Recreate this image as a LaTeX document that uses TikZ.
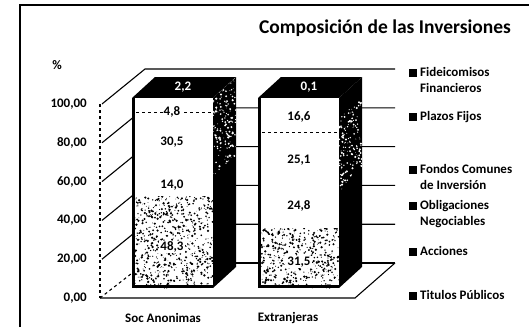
\documentclass[tikz,border=0pt]{standalone}
\usepackage{fontspec}
\setmainfont{Carlito}
\begin{document}
\begin{tikzpicture}[x=1pt,y=-1pt,font=\bfseries\fontsize{13}{16}\selectfont]
    \newcommand{\flx}{100}   % front left corner of the floor
    \newcommand{\fly}{298}
    \newcommand{\bkx}{145}   % back left corner of the floor
    \newcommand{\bky}{263}
    \newcommand{\rgt}{395}   % right end of the back wall
    \newcommand{\stp}{38.8}  % one step of the grid
    \newcommand{\barw}{81}   % width of a bar
    \newcommand{\barb}{288}  % bottom of the bars
    \newcommand{\bartop}{98} % top of the bars
    \newcommand{\dpx}{23}    % depth of a bar
    \newcommand{\dpy}{-21}

    \useasboundingbox (0,0) rectangle (529,327);

    % styles of the chart
    \tikzset{
        wall/.style={line width=1.1pt},
        seglbl/.style={inner sep=1pt},
        axislbl/.style={anchor=east, inner sep=1pt},
        legtxt/.style={anchor=north west, align=left, inner sep=0pt},
        legicon/.style={draw, fill=black, line width=0.6pt, minimum size=6.5pt, inner sep=0pt},
        edge/.style={line width=3pt}
    }
    \pgfmathsetseed{11}

    % frame
    \draw[line width=2pt] (20,327) -- (20,5) -- (529,5);

    % title
    \node (title) at (385,28) {\fontsize{19.5}{22}\selectfont Composición de las Inversiones};
    \node (pct) at (57,65) {\%};

    % left wall and back wall
    \draw[wall, dashed] (\flx,\fly-5*\stp) -- (\flx,\fly);
    \foreach \k in {1,...,5}
        \draw[wall] (\flx+2,\fly-\k*\stp) -- (\bkx,\bky-\k*\stp) -- (\rgt,\bky-\k*\stp);
    \draw[wall, dashed] (\flx,\fly) -- (\bkx,\bky);
    \draw[wall] (\bkx,\bky) -- (\rgt,\bky);

    % floor
    \draw[wall] (\flx,\fly) -- (355,\fly) -- (\rgt,\bky);

    % values of the axis
    \foreach \k/\lab in {0/{0,00},1/{20,00},2/{40,00},3/{60,00},4/{80,00},5/{100,00}}
        \node[axislbl] (y\k) at (88,\fly-\k*\stp) {\lab};

    % bar of Soc Anonimas
    \fill (132+\barw,\barb) -- (132+\barw,\bartop) -- ++(\dpx,\dpy) -- (132+\barw+\dpx,\barb+\dpy) -- cycle;
    \fill (132,\bartop) -- ++(\dpx,\dpy) -- ++(\barw,0) -- (132+\barw,\bartop) -- cycle;
    \begin{scope}
        \clip (132+\barw,\barb) -- (132+\barw,\bartop) -- ++(\dpx,\dpy) -- (132+\barw+\dpx,\barb+\dpy) -- cycle;
        \foreach \k in {1,...,170}{
            \pgfmathsetmacro{\ra}{rnd}
            \pgfmathsetmacro{\rr}{0.3+0.9*rnd}
            \fill[white] ({132+\barw+\dpx*\ra},{96+80*rnd+\dpy*\ra}) circle (\rr pt);
        }
    \end{scope}
    \fill[white] (132,\bartop) rectangle (132+\barw,\barb);
    \begin{scope}
        \clip (132,196) rectangle (132+\barw,\barb);
        \foreach \k in {1,...,700}{
            \pgfmathsetmacro{\rr}{0.3+1.0*rnd}
            \fill ({132+\barw*rnd},{196+92*rnd}) circle (\rr pt);
        }
    \end{scope}
    \draw[edge] (133.5,\bartop) -- (133.5,286.5) -- (132+\barw,286.5);
    \draw[line width=0.8pt, dashed] (136,112) -- (132+\barw,112);

    \node[seglbl, text=white] (sa1) at (183,87) {2,2};
    \node[seglbl, fill=white] (sa2) at (172,112) {4,8};
    \node[seglbl] (sa3) at (172,142) {30,5};
    \node[seglbl] (sa4) at (172,185) {14,0};
    \node[seglbl, fill=white] (sa5) at (172,247) {48,3};

    % bar of Extranjeras
    \fill (258+\barw,\barb) -- (258+\barw,\bartop) -- ++(\dpx,\dpy) -- (258+\barw+\dpx,\barb+\dpy) -- cycle;
    \fill (258,\bartop) -- ++(\dpx,\dpy) -- ++(\barw,0) -- (258+\barw,\bartop) -- cycle;
    \begin{scope}
        \clip (258+\barw,\barb) -- (258+\barw,\bartop) -- ++(\dpx,\dpy) -- (258+\barw+\dpx,\barb+\dpy) -- cycle;
        \foreach \k in {1,...,150}{
            \pgfmathsetmacro{\ra}{rnd}
            \pgfmathsetmacro{\rr}{0.3+0.9*rnd}
            \fill[white] ({258+\barw+\dpx*\ra},{118+75*rnd+\dpy*\ra}) circle (\rr pt);
        }
    \end{scope}
    \fill[white] (258,\bartop) rectangle (258+\barw,\barb);
    \begin{scope}
        \clip (258,228) rectangle (258+\barw,\barb);
        \foreach \k in {1,...,460}{
            \pgfmathsetmacro{\rr}{0.3+1.0*rnd}
            \fill ({258+\barw*rnd},{228+60*rnd}) circle (\rr pt);
        }
    \end{scope}
    \draw[edge] (259.5,\bartop) -- (259.5,286.5) -- (258+\barw,286.5);
    \draw[line width=0.8pt, dashed] (262,132) -- (258+\barw,132);

    \node[seglbl, text=white] (sb1) at (309,87) {0,1};
    \node[seglbl] (sb2) at (299,117) {16,6};
    \node[seglbl] (sb3) at (299,160) {25,1};
    \node[seglbl] (sb4) at (299,206) {24,8};
    \node[seglbl, fill=white] (sb5) at (299,262) {31,5};

    % categories
    \node (catA) at (163,318) {Soc Anonimas};
    \node (catB) at (288,318) {Extranjeras};

    % legend
    \foreach \n/\y/\txt in {fid/73/{Fideicomisos\\Financieros}, pla/117/{Plazos Fijos},
            fon/170/{Fondos Comunes\\de Inversión}, obl/206/{Obligaciones\\Negociables},
            acc/252/{Acciones}, tit/296/{Titulos Públicos}}{
        \node[legicon] (i\n) at (413,\y) {};
        \node[legtxt] (l\n) at (420,\y-5.5) {\txt};
    }
\end{tikzpicture}
\end{document}
